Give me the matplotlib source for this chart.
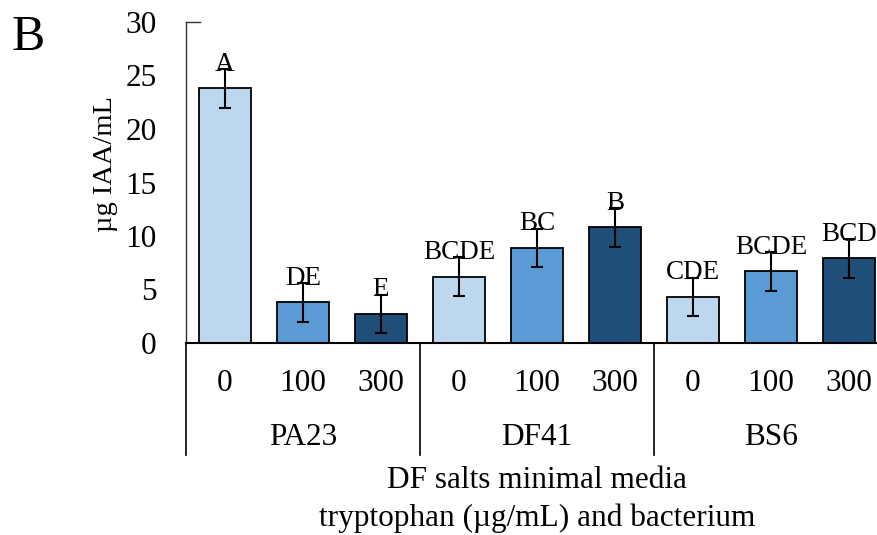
import matplotlib
matplotlib.use("Agg")
import matplotlib.pyplot as plt
import numpy as np

plt.rcParams['font.family'] = ['Liberation Serif', 'DejaVu Serif']

# IAA production per bacterium and tryptophan dose
bacteria = ["PA23", "DF41", "BS6"]
doses = ["0", "100", "300"]
iaa_mean = [23.8, 3.8, 2.7, 6.2, 8.9, 10.8, 4.3, 6.7, 7.9]
iaa_sd = [1.8, 1.8, 1.8, 1.8, 1.8, 1.8, 1.8, 1.8, 1.8]
letters = ["A", "DE", "E", "BCDE", "BC", "B", "CDE", "BCDE", "BCD"]
dose_colors = ["#BDD7EE", "#5B9BD5", "#1F4E79"]

fs = 22.5

fig = plt.figure(figsize=(8.78, 5.35), dpi=100)
ax = fig.add_axes([186 / 878, 192 / 535, 702 / 878, 321 / 535])

x = np.arange(len(iaa_mean))
colors = [dose_colors[i % 3] for i in range(len(iaa_mean))]
ax.bar(x, iaa_mean, width=0.67, color=colors, edgecolor="black", linewidth=1.3, zorder=2)
ax.errorbar(x, iaa_mean, yerr=iaa_sd, fmt="none", ecolor="black",
            elinewidth=1.5, capsize=4.3, capthick=1.5, zorder=3)

for xi, m, s, lab in zip(x, iaa_mean, iaa_sd, letters):
    ax.text(xi, m + s - 0.15, lab, ha="center", va="baseline", fontsize=19.5, zorder=4)

ax.set_xlim(-0.5, 8.5)
ax.set_ylim(0, 30)
ax.set_yticks(np.arange(0, 31, 5))
ax.tick_params(axis="y", length=0, pad=21, labelsize=fs)
ax.set_xticks([])
ax.spines["top"].set_visible(False)
ax.spines["right"].set_visible(False)
ax.spines["bottom"].set_linewidth(1.5)
ax.spines["left"].set_linewidth(1.0)
ax.spines["left"].set_color("#333333")
ax.plot([0, 0.02], [1, 1], transform=ax.transAxes, color="#333333", lw=1.0, clip_on=False)

# two-level category axis below the plot
tr = ax.get_xaxis_transform()
for xi in x:
    ax.text(xi, -0.125, doses[xi % 3], transform=tr, ha="center", va="center", fontsize=fs)
for g, name in enumerate(bacteria):
    ax.text(g * 3 + 1, -0.293, name, transform=tr, ha="center", va="center", fontsize=fs)
for sep in [-0.5, 2.5, 5.5, 8.5]:
    ax.plot([sep, sep], [0, -0.35], transform=tr, color="black", lw=1.2, clip_on=False)

fig.text(106 / 878, 1 - 164 / 535, "µg IAA/mL", rotation=90, ha="center", va="center", fontsize=20.5)
fig.text(537 / 878, 1 - 481 / 535, "DF salts minimal media", ha="center", va="center", fontsize=fs)
fig.text(537 / 878, 1 - 518 / 535, "tryptophan (µg/mL) and bacterium", ha="center", va="center", fontsize=fs)
fig.text(12 / 878, 1 - 38 / 535, "B", ha="left", va="center", fontsize=36)

fig.savefig("out.png", dpi=100)
